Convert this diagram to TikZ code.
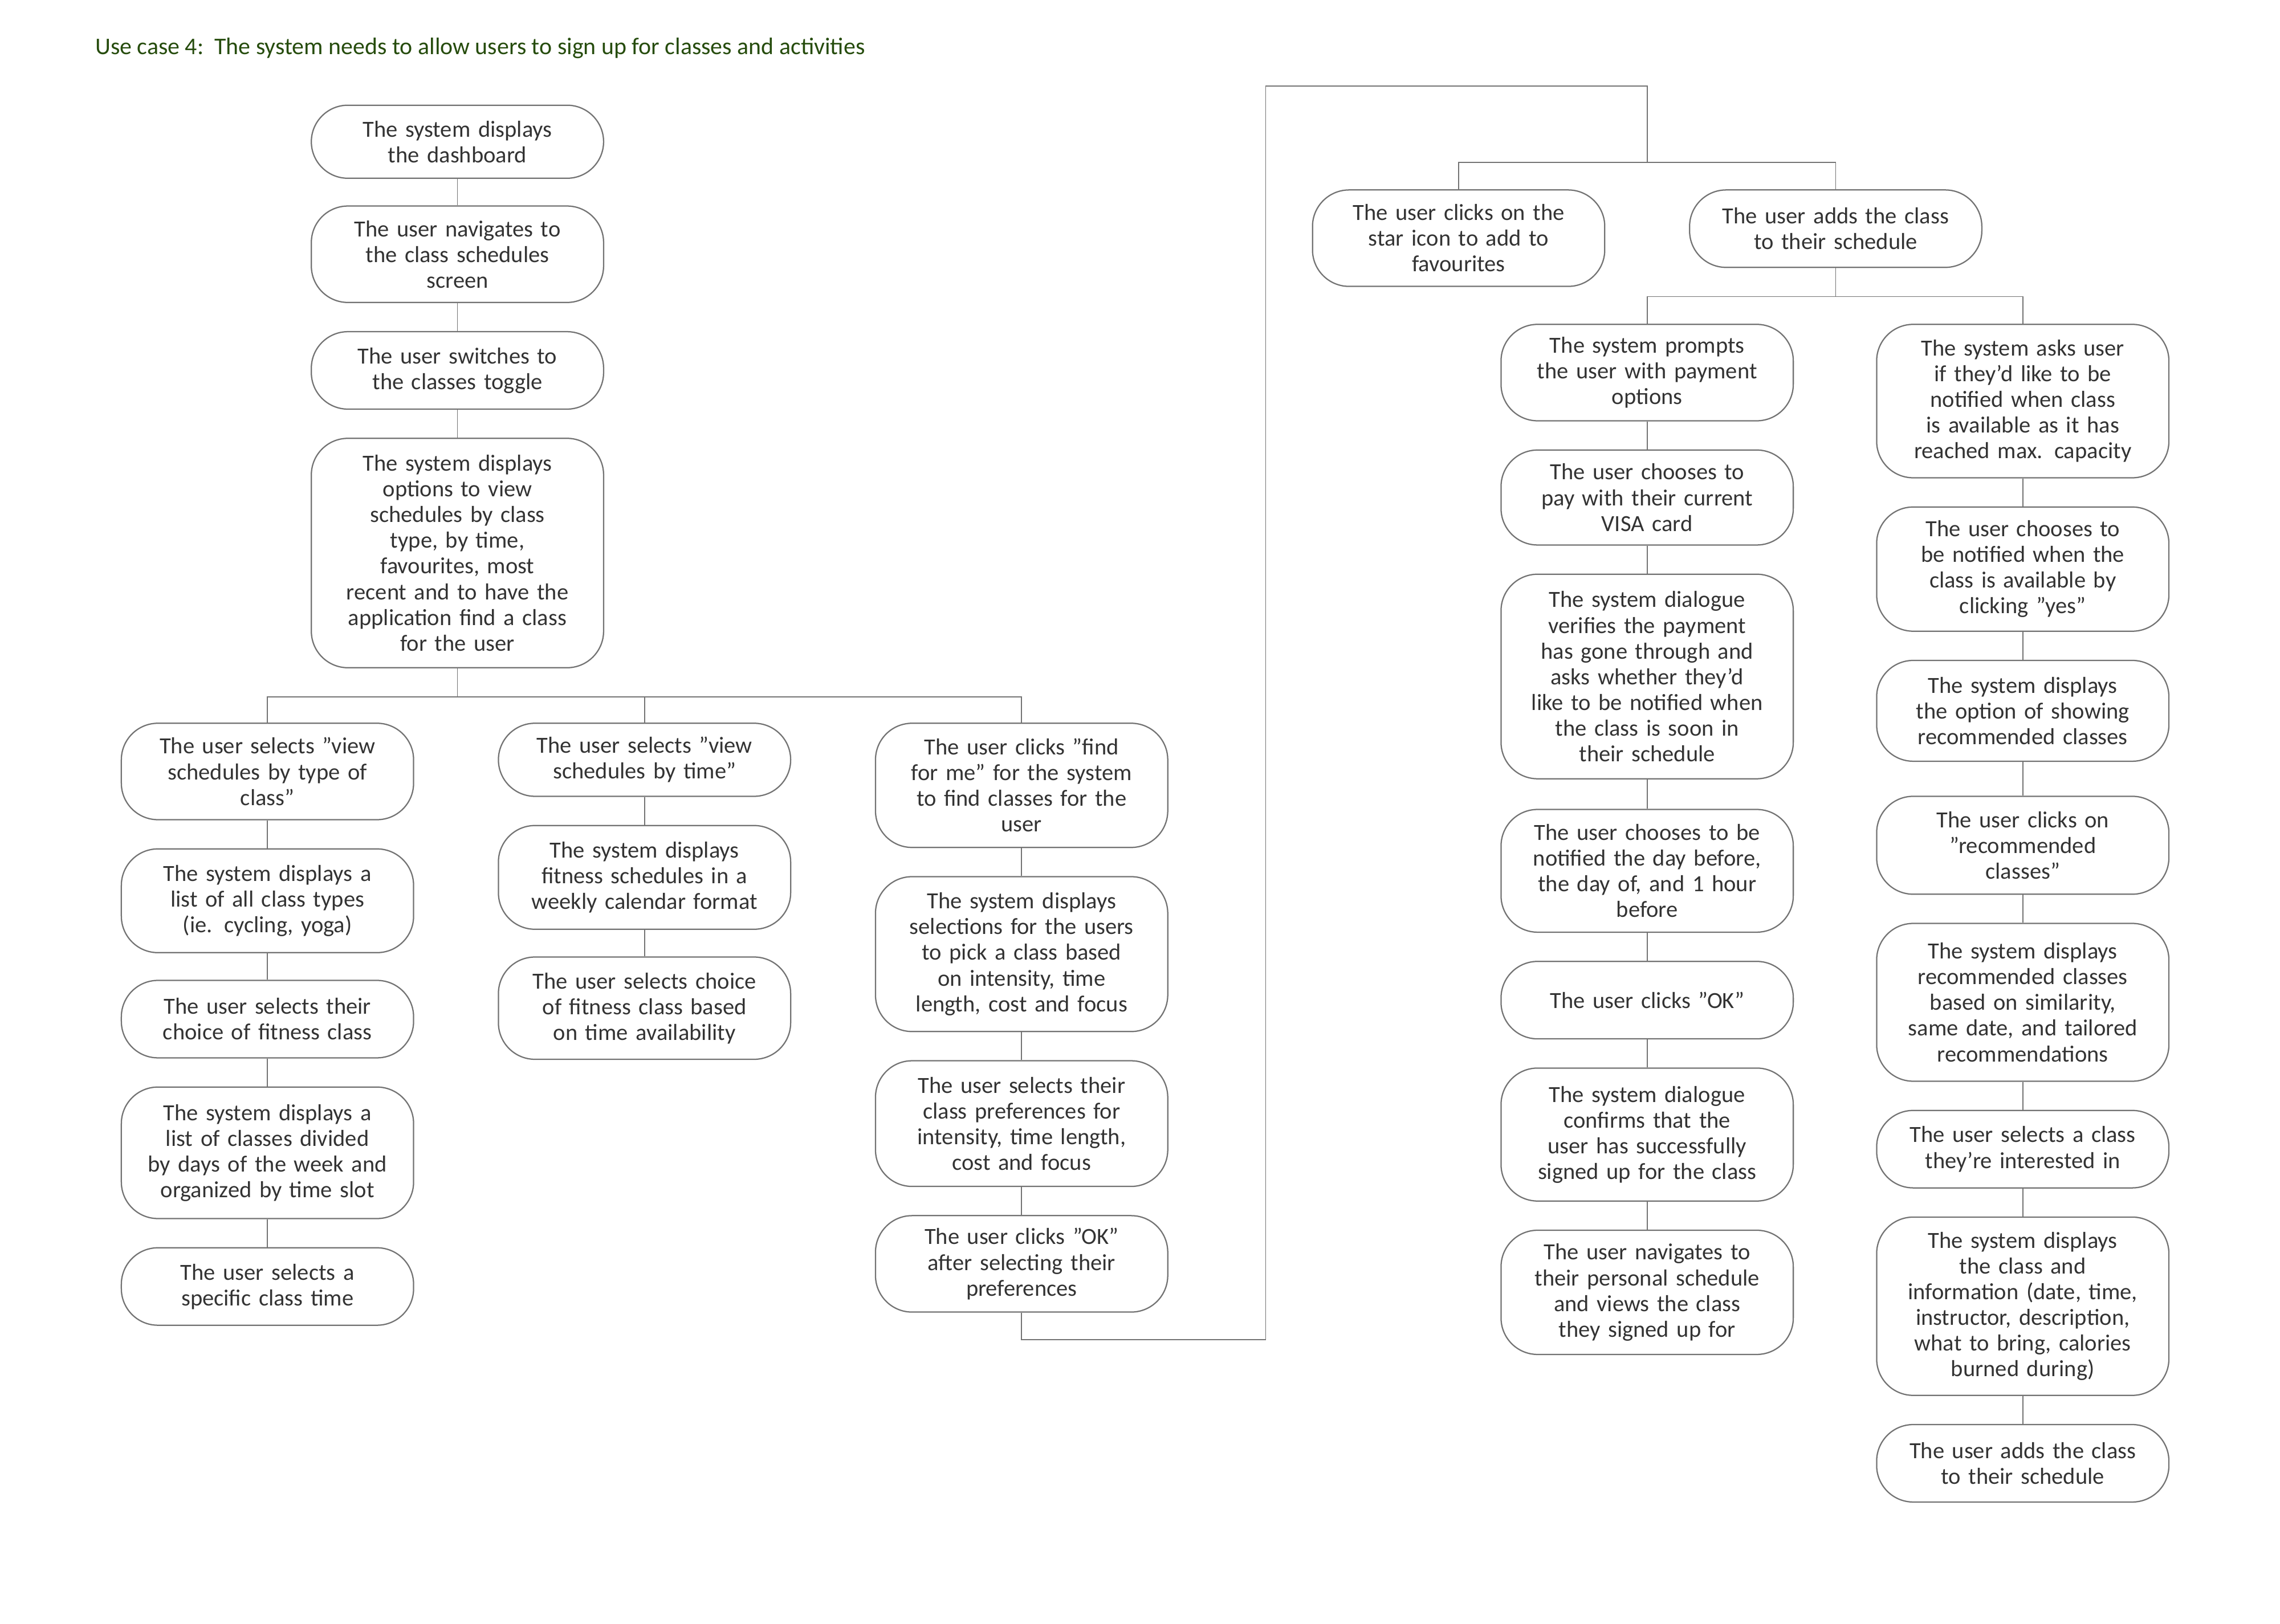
\documentclass[tikz,border=0pt]{standalone}
\usepackage{fontspec}
\setmainfont{Carlito}
\begin{document}
\begin{tikzpicture}[x=0.02cm,y=-0.02cm,
  box/.style={draw=black!55,line width=0.5pt,rounded corners=0.5cm,minimum width=4cm,text width=3.7cm,align=center,inner sep=0pt,font=\fontsize{9}{10}\selectfont,text=black!80},
  ln/.style={draw=black!55,line width=0.4pt}]
\useasboundingbox (0,0) rectangle (1560,1111.5);
\newcommand{\bx}[5]{\node[box,minimum height={(#4-#3)*0.02cm}] (#1) at (#2,{(#3+#4)/2}) {#5};}
\node[anchor=west,text=green!25!black!80!brown,font=\fontsize{9.3}{10}\selectfont] (title) at (59,33) {Use case 4:\ \ The system needs to allow users to sign up for classes and activities};
\bx{a1}{313}{72}{122}{The system displays\\the dashboard}
\bx{a2}{313}{141}{207}{The user navigates to\\the class schedules\\screen}
\bx{a3}{313}{227}{280}{The user switches to\\the classes toggle}
\bx{a4}{313}{300}{457}{The system displays\\options to view\\schedules by class\\type, by time,\\favourites, most\\recent and to have the\\application find a class\\for the user}
\bx{b1}{183}{495}{561}{The user selects "view\\schedules by type of\\class"}
\bx{b2}{183}{581}{652}{The system displays a\\list of all class types\\(ie. cycling, yoga)}
\bx{b3}{183}{671}{724}{The user selects their\\choice of fitness class}
\bx{b4}{183}{744}{834}{The system displays a\\list of classes divided\\by days of the week and\\organized by time slot}
\bx{b5}{183}{854}{907}{The user selects a\\specific class time}
\bx{c1}{441}{495}{545}{The user selects "view\\schedules by time"}
\bx{c2}{441}{565}{636}{The system displays\\fitness schedules in a\\weekly calendar format}
\bx{c3}{441}{655}{725}{The user selects choice\\of fitness class based\\on time availability}
\bx{d1}{699}{495}{580}{The user clicks "find\\for me" for the system\\to find classes for the\\user}
\bx{d2}{699}{600}{706}{The system displays\\selections for the users\\to pick a class based\\on intensity, time\\length, cost and focus}
\bx{d3}{699}{726}{812}{The user selects their\\class preferences for\\intensity, time length,\\cost and focus}
\bx{d4}{699}{832}{898}{The user clicks "OK"\\after selecting their\\preferences}
\bx{e1}{998}{130}{196}{The user clicks on the\\star icon to add to\\favourites}
\bx{e2}{1256}{130}{183}{The user adds the class\\to their schedule}
\bx{f1}{1127}{222}{288}{The system prompts\\the user with payment\\options}
\bx{f2}{1127}{308}{373}{The user chooses to\\pay with their current\\VISA card}
\bx{f3}{1127}{393}{533}{The system dialogue\\verifies the payment\\has gone through and\\asks whether they'd\\like to be notified when\\the class is soon in\\their schedule}
\bx{f4}{1127}{554}{638}{The user chooses to be\\notified the day before,\\the day of, and 1 hour\\before}
\bx{f5}{1127}{658}{711}{The user clicks "OK"}
\bx{f6}{1127}{731}{822}{The system dialogue\\confirms that the\\user has successfully\\signed up for the class}
\bx{f7}{1127}{842}{927}{The user navigates to\\their personal schedule\\and views the class\\they signed up for}
\bx{g1}{1384}{222}{327}{The system asks user\\if they'd like to be\\notified when class\\is available as it has\\reached max. capacity}
\bx{g2}{1384}{347}{432}{The user chooses to\\be notified when the\\class is available by\\clicking "yes"}
\bx{g3}{1384}{452}{521}{The system displays\\the option of showing\\recommended classes}
\bx{g4}{1384}{545}{612}{The user clicks on\\"recommended\\classes"}
\bx{g5}{1384}{632}{740}{The system displays\\recommended classes\\based on similarity,\\same date, and tailored\\recommendations}
\bx{g6}{1384}{760}{813}{The user selects a class\\they're interested in}
\bx{g7}{1384}{833}{955}{The system displays\\the class and\\information (date, time,\\instructor, description,\\what to bring, calories\\burned during)}
\bx{g8}{1384}{975}{1028}{The user adds the class\\to their schedule}
\draw[ln] (a1)--(a2) (a2)--(a3) (a3)--(a4);
\draw[ln] (b1)--(b2) (b2)--(b3) (b3)--(b4) (b4)--(b5);
\draw[ln] (c1)--(c2) (c2)--(c3);
\draw[ln] (d1)--(d2) (d2)--(d3) (d3)--(d4);
\draw[ln] (f1)--(f2) (f2)--(f3) (f3)--(f4) (f4)--(f5) (f5)--(f6) (f6)--(f7);
\draw[ln] (g1)--(g2) (g2)--(g3) (g3)--(g4) (g4)--(g5) (g5)--(g6) (g6)--(g7) (g7)--(g8);
\coordinate (j1) at (313,477);
\draw[ln] (a4.south)--(j1) -| (b1.north) (j1) -| (c1.north) (j1) -| (d1.north);
\coordinate (p1) at (866,917); \coordinate (p2) at (866,59);
\coordinate (p3) at (1127,59); \coordinate (p4) at (1127,111);
\draw[ln] (d4.south) |- (p1) -- (p2) -- (p3) -- (p4) -| (e1.north) (p4) -| (e2.north);
\coordinate (j2) at (1256,203);
\draw[ln] (e2.south)--(j2) -| (f1.north) (j2) -| (g1.north);
\end{tikzpicture}
\end{document}
